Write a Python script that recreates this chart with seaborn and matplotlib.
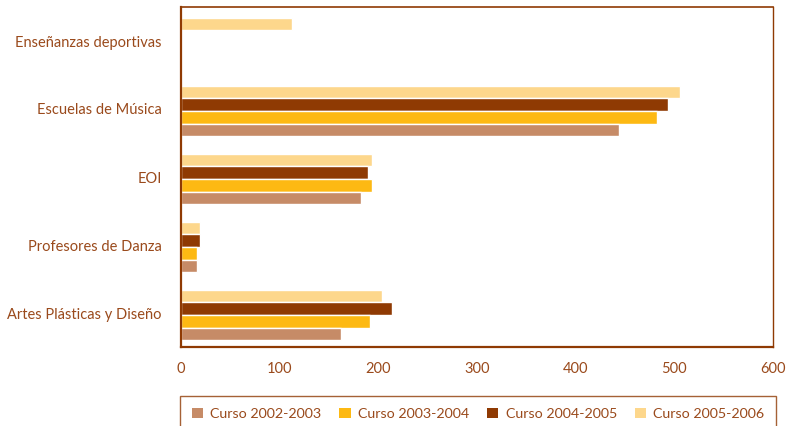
import numpy as np
import pandas as pd
import matplotlib
matplotlib.use('Agg')
import matplotlib.pyplot as plt
import seaborn as sns
from matplotlib.patches import Patch

# Datos
categorias = ['Enseñanzas deportivas', 'Escuelas de Música', 'EOI',
              'Profesores de Danza', 'Artes Plásticas y Diseño']
cursos = ['Curso 2002-2003', 'Curso 2003-2004', 'Curso 2004-2005', 'Curso 2005-2006']
curso_2002_2003 = [0, 444, 182, 16, 162]
curso_2003_2004 = [0, 482, 194, 16, 192]
curso_2004_2005 = [0, 494, 190, 19, 214]
curso_2005_2006 = [113, 506, 194, 19, 204]
x_ticks = [0, 100, 200, 300, 400, 500, 600]

colores = {'Curso 2002-2003': '#C68B67', 'Curso 2003-2004': '#FDB913',
           'Curso 2004-2005': '#8F3A03', 'Curso 2005-2006': '#FDD78C'}
marron = '#8F3A03'
texto = '#9A4A1C'

df = pd.DataFrame({
    'Categoria': categorias * 4,
    'Curso': np.repeat(cursos, len(categorias)),
    'Valor': curso_2002_2003 + curso_2003_2004 + curso_2004_2005 + curso_2005_2006,
})

sns.set_style('white')
plt.rcParams['font.family'] = ['Lato', 'DejaVu Sans']

fig = plt.figure(figsize=(7.89, 4.26), dpi=100)
ax = fig.add_axes([181 / 789, 1 - 347 / 426, (773 - 181) / 789, 340 / 426])

sns.barplot(data=df, x='Valor', y='Categoria', hue='Curso', order=categorias,
            hue_order=cursos[::-1], palette=colores, orient='h',
            width=0.74, gap=0, saturation=1, ax=ax, legend=False)

# pequeño desplazamiento para que los grupos queden como en el original
off = 0.03
ax.set_xlim(0, 600)
ax.set_ylim(len(categorias) - 0.5 - off, -0.5 - off)
ax.set_xticks(x_ticks)
ax.set_xticklabels([str(t) for t in x_ticks], color=texto, fontsize=10.5)
ax.set_yticks(np.arange(-0.5, len(categorias), 1) - off)
ax.set_yticklabels([])
ax.set_yticks(np.arange(len(categorias)) - off, minor=True)
ax.set_yticklabels(categorias, minor=True, color=texto, fontsize=10.5)
ax.tick_params(axis='y', which='minor', length=0, pad=14)
ax.tick_params(axis='y', which='major', length=5, width=1.5, color=marron, direction='out')
ax.tick_params(axis='x', length=5, width=1.5, color=marron, direction='out', pad=6)
ax.set_xlabel('')
ax.set_ylabel('')

for lado in ['left', 'bottom', 'top', 'right']:
    ax.spines[lado].set_visible(True)
    ax.spines[lado].set_color(marron)
ax.spines['left'].set_linewidth(1.6)
ax.spines['bottom'].set_linewidth(1.6)
ax.spines['top'].set_linewidth(1.2)
ax.spines['right'].set_linewidth(1.0)

handles = [Patch(facecolor=colores[c], edgecolor='none', label=c) for c in cursos]
leg = fig.legend(handles=handles, ncol=4, loc='upper left',
                 bbox_to_anchor=(173 / 789, 1 - 389 / 426, (783 - 173) / 789, 0.0001),
                 mode='expand', frameon=True, fancybox=False, fontsize=10.3,
                 handlelength=0.8, handleheight=0.8, handletextpad=0.5,
                 borderpad=0.8, columnspacing=1.5)
leg.get_frame().set_edgecolor(marron)
leg.get_frame().set_linewidth(1.0)
for t in leg.get_texts():
    t.set_color(texto)

fig.savefig('out.png', dpi=100)
